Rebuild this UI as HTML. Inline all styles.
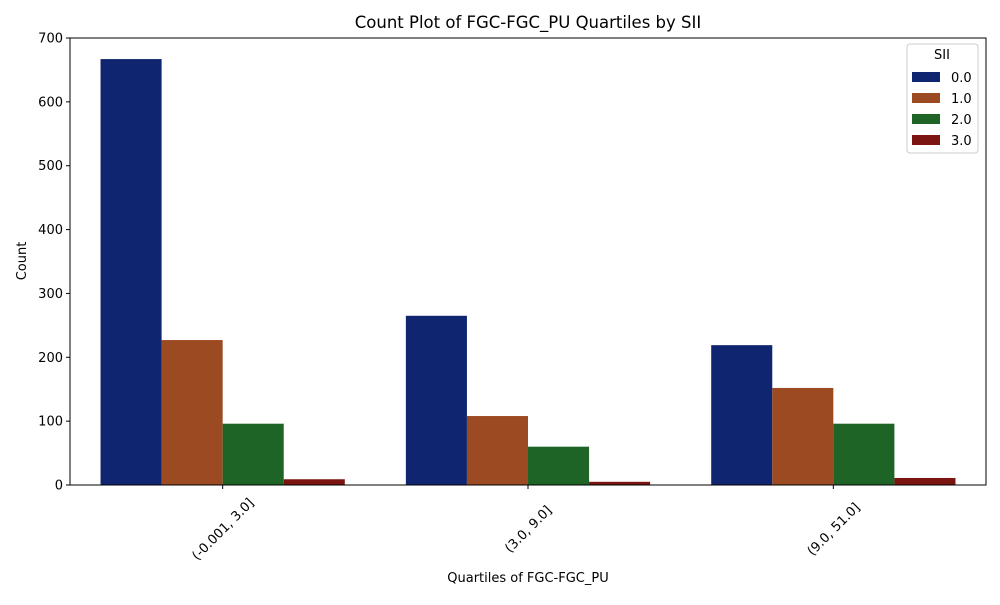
<!DOCTYPE html>
<html><head><meta charset="utf-8"><style>
body{margin:0;background:#fff;font-family:"Liberation Sans","DejaVu Sans",sans-serif}
</style></head><body>
<svg id="chart" width="1000" height="600" xmlns="http://www.w3.org/2000/svg" font-family="DejaVu Sans, Liberation Sans, sans-serif">
<rect width="1000" height="600" fill="#fff"/>
<text x="528" y="28" font-size="16.5" text-anchor="middle">Count Plot of FGC-FGC_PU Quartiles by SII</text>
<g id="bars"></g>
<g id="axes"></g>
<text x="528" y="582" font-size="13" text-anchor="middle">Quartiles of FGC-FGC_PU</text>
<text transform="translate(26,261) rotate(-90)" font-size="13" text-anchor="middle">Count</text>
<g id="legend"></g>
</svg>
<script>
const categories = ["(-0.001, 3.0]", "(3.0, 9.0]", "(9.0, 51.0]"];
const hues = ["0.0", "1.0", "2.0", "3.0"];
const s0 = [667, 265, 219];
const s1 = [227, 108, 152];
const s2 = [96, 60, 96];
const s3 = [9, 5, 11];
const yTicks = [0, 100, 200, 300, 400, 500, 600, 700];
const series = [s0, s1, s2, s3];
const colors = ["#10256f", "#9b4a22", "#1e6426", "#7a1511"];
const NS = "http://www.w3.org/2000/svg";
const L = 70, R = 986, T = 38, B = 485, yMax = 700;
const y = v => B - v / yMax * (B - T);
const step = (R - L) / categories.length;
const xc = i => L + step * (i + 0.5);
const bw = step * 0.8 / hues.length;
function mk(tag, attrs, parent) { const e = document.createElementNS(NS, tag); for (const k in attrs) e.setAttribute(k, attrs[k]); parent.appendChild(e); return e; }
const bars = document.getElementById("bars"), axes = document.getElementById("axes"), leg = document.getElementById("legend");
series.forEach((s, h) => s.forEach((v, i) => {
  const r = mk("rect", { x: xc(i) - step * 0.4 + h * bw, y: y(v), width: bw, height: B - y(v), fill: colors[h] }, bars);
  
  
}));
mk("rect", { x: L, y: T, width: R - L, height: B - T, fill: "none", stroke: "#000", "stroke-width": 1 }, axes);
yTicks.forEach(t => {
  mk("line", { x1: L - 4, x2: L, y1: y(t), y2: y(t), stroke: "#000" }, axes);
  const tx = mk("text", { x: L - 7, y: y(t) + 4.5, "font-size": 13, "text-anchor": "end" }, axes);
  tx.textContent = t;
  
  
});
categories.forEach((c, i) => {
  mk("line", { x1: xc(i), x2: xc(i), y1: B, y2: B + 4, stroke: "#000" }, axes);
  const tx = mk("text", { transform: `translate(${xc(i)},${B + 44}) rotate(-45)`, "font-size": 13, "text-anchor": "middle", dy: "0.35em" }, axes);
  tx.textContent = c;
  
  
});
mk("rect", { x: 907, y: 44, width: 71, height: 109, rx: 3, fill: "#fff", stroke: "#ccc" }, leg);
const lt = mk("text", { x: 942, y: 59, "font-size": 13, "text-anchor": "middle" }, leg);
lt.textContent = "SII";
hues.forEach((h, k) => {
  const cy = 77 + k * 21;
  const p = mk("rect", { x: 912, y: cy - 5, width: 28, height: 10, fill: colors[k] }, leg);
  
  
  const t = mk("text", { x: 951, y: cy + 5, "font-size": 13 }, leg);
  t.textContent = h;
  
  
});
</script>
</body></html>
